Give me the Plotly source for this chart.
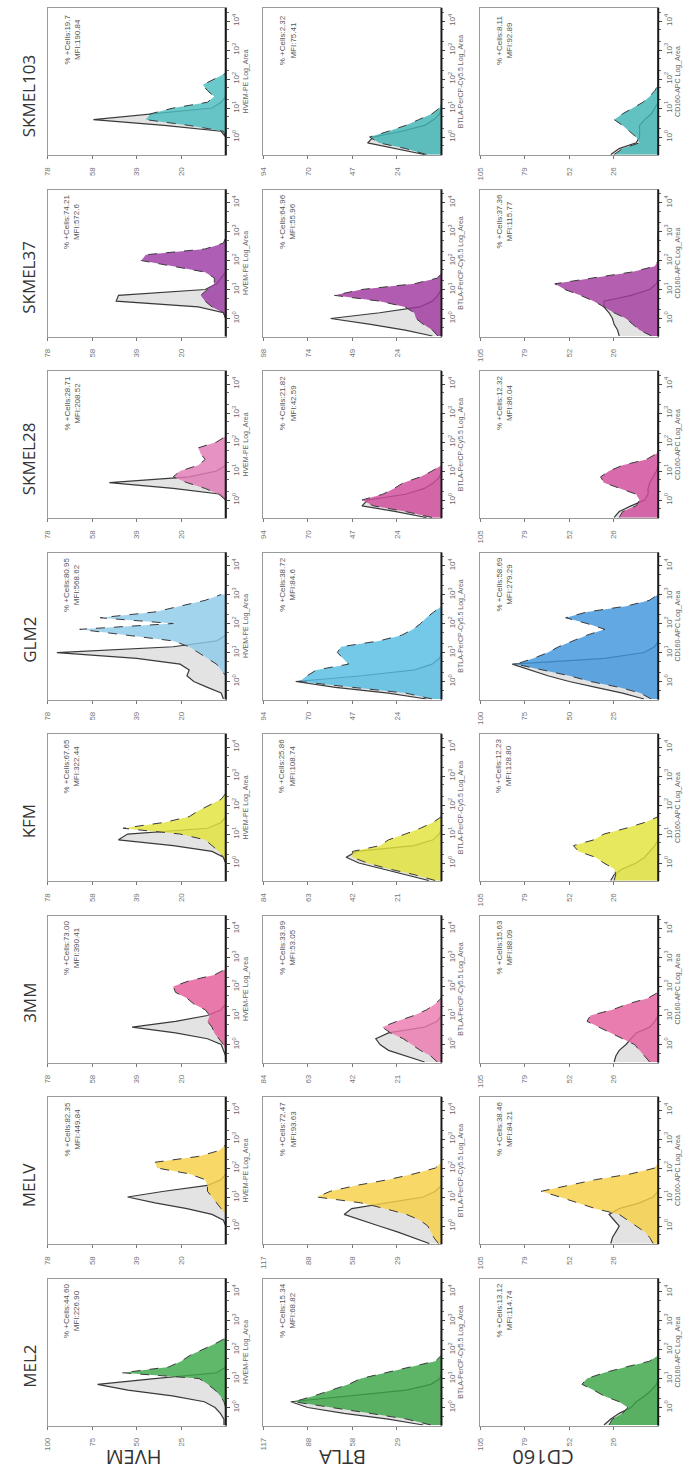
import plotly.graph_objects as go

# ---------------- data ----------------
CELL_LINES = ["SKMEL103", "SKMEL37", "SKMEL28", "GLM2", "KFM", "3MM", "MELV", "MEL2"]  # top -> bottom
MARKERS = ["HVEM", "BTLA", "CD160"]
AXIS_TITLES = ["HVEM-PE Log_Area", "BTLA-PerCP-Cy5.5 Log_Area", "CD160-APC Log_Area"]

# fluorescence bin positions (log10 = -0.6 ... 3.0 in 0.2 steps)
FLUOR = [0.25, 0.40, 0.63, 1.0, 1.58, 2.51, 3.98, 6.31, 10.0, 15.8, 25.1, 39.8, 63.1,
         100.0, 158.0, 251.0, 398.0, 631.0, 1000.0]
FLUOR_TICKS = [1, 10, 100, 1000, 10000]
FLUOR_TICKTEXT = ["10<sup>0</sup>", "10<sup>1</sup>", "10<sup>2</sup>", "10<sup>3</sup>", "10<sup>4</sup>"]

# stained-histogram colour per cell line, per marker (HVEM, BTLA, CD160)
STAIN_COLORS = [
    ["#4bbcbf", "#3fb5b5", "#3fb3b3"],
    ["#9c3aa5", "#a0389f", "#a43c9e"],
    ["#e07ab5", "#d04a98", "#d04a98"],
    ["#8fcbea", "#55bde3", "#3f95dd"],
    ["#e3e33c", "#e3e33c", "#e3e33c"],
    ["#e45c98", "#ec7ab0", "#e5609f"],
    ["#f6cf45", "#f6cf45", "#f6cf45"],
    ["#3da84a", "#3aa547", "#3aa547"],
]

# count-axis maxima per panel (rows = CELL_LINES)
HVEM_MAX = [78, 78, 78, 78, 78, 78, 78, 100]
BTLA_MAX = [94, 98, 94, 94, 84, 84, 117, 117]
CD160_MAX = [105, 105, 105, 100, 105, 105, 105, 105]

HVEM_PCT = ["19.7", "74.21", "28.71", "80.95", "67.65", "73.00", "82.35", "44.60"]
HVEM_MFI = ["190.84", "572.6", "208.52", "568.62", "322.44", "390.41", "449.84", "226.90"]
BTLA_PCT = ["2.32", "64.96", "21.82", "38.72", "25.86", "33.99", "72.47", "15.34"]
BTLA_MFI = ["75.41", "55.96", "42.59", "84.6", "108.74", "53.05", "93.63", "68.82"]
CD160_PCT = ["8.11", "37.36", "12.32", "58.69", "12.23", "15.63", "38.46", "13.12"]
CD160_MFI = ["92.89", "115.77", "86.04", "279.29", "128.80", "88.09", "84.21", "114.74"]

# control (isotype) histograms, counts per bin
HVEM_CTRL = [
    [0, 0, 0, 0, 2, 27, 58, 31, 6, 2, 0, 0, 0, 0, 0, 0, 0, 0, 0],
    [0, 0, 0, 0, 1, 12, 48, 47, 9, 4, 2, 0, 0, 0, 0, 0, 0, 0, 0],
    [0, 0, 0, 0, 2, 23, 51, 16, 4, 0, 0, 0, 0, 0, 0, 0, 0, 0, 0],
    [1, 2, 8, 14, 17, 16, 20, 39, 74, 23, 4, 0, 0, 0, 0, 0, 0, 0, 0],
    [0, 0, 0, 0, 1, 6, 23, 47, 43, 8, 2, 0, 0, 0, 0, 0, 0, 0, 0],
    [0, 0, 1, 2, 8, 22, 41, 22, 8, 2, 0, 0, 0, 0, 0, 0, 0, 0, 0],
    [0, 0, 0, 0, 1, 6, 17, 31, 43, 27, 8, 2, 0, 0, 0, 0, 0, 0, 0],
    [1, 1, 3, 6, 12, 30, 55, 72, 40, 5, 0, 0, 0, 0, 0, 0, 0, 0, 0],
]
HVEM_STAIN = [
    [0, 0, 0, 0, 1, 16, 35, 33, 23, 8, 5, 8, 10, 5, 0, 0, 0, 0, 0],
    [0, 0, 0, 0, 1, 6, 9, 11, 8, 5, 5, 9, 23, 37, 35, 9, 1, 0, 0],
    [0, 0, 0, 0, 3, 9, 17, 23, 20, 12, 9, 11, 12, 4, 0, 0, 0, 0, 0],
    [0, 0, 0, 0, 0, 2, 4, 8, 12, 16, 23, 43, 64, 23, 55, 31, 20, 9, 2],
    [0, 0, 0, 0, 1, 3, 6, 9, 20, 45, 27, 16, 12, 7, 2, 0, 0, 0, 0],
    [0, 0, 0, 1, 3, 5, 6, 8, 7, 9, 14, 17, 22, 23, 16, 5, 0, 0, 0],
    [0, 0, 0, 0, 0, 0, 2, 4, 6, 8, 8, 9, 16, 30, 31, 12, 3, 0, 0],
    [0, 0, 0, 0, 1, 3, 6, 10, 15, 58, 32, 25, 20, 13, 6, 0, 0, 0, 0],
]
BTLA_CTRL = [
    [9, 24, 39, 36, 21, 9, 4, 1, 0, 0, 0, 0, 0, 0, 0, 0, 0, 0, 0],
    [5, 20, 39, 61, 34, 12, 5, 2, 0, 0, 0, 0, 0, 0, 0, 0, 0, 0, 0],
    [8, 24, 42, 39, 19, 9, 4, 1, 0, 0, 0, 0, 0, 0, 0, 0, 0, 0, 0],
    [8, 28, 56, 77, 42, 14, 5, 1, 0, 0, 0, 0, 0, 0, 0, 0, 0, 0, 0],
    [6, 17, 29, 39, 45, 40, 13, 4, 1, 0, 0, 0, 0, 0, 0, 0, 0, 0, 0],
    [8, 17, 25, 29, 31, 25, 8, 2, 0, 0, 0, 0, 0, 0, 0, 0, 0, 0, 0],
    [8, 18, 29, 41, 53, 64, 59, 35, 12, 4, 0, 0, 0, 0, 0, 0, 0, 0, 0],
    [12, 35, 64, 88, 99, 59, 23, 7, 1, 0, 0, 0, 0, 0, 0, 0, 0, 0, 0],
]
BTLA_STAIN = [
    [8, 19, 33, 38, 28, 19, 12, 5, 1, 0, 0, 0, 0, 0, 0, 0, 0, 0, 0],
    [2, 5, 10, 14, 15, 20, 34, 59, 44, 15, 2, 0, 0, 0, 0, 0, 0, 0, 0],
    [5, 19, 36, 42, 31, 25, 20, 11, 5, 0, 0, 0, 0, 0, 0, 0, 0, 0, 0],
    [5, 19, 47, 75, 71, 66, 49, 52, 55, 53, 33, 21, 15, 11, 8, 4, 0, 0, 0],
    [3, 13, 25, 35, 42, 42, 29, 25, 17, 10, 4, 0, 0, 0, 0, 0, 0, 0, 0],
    [2, 5, 10, 14, 18, 24, 28, 21, 13, 7, 3, 0, 0, 0, 0, 0, 0, 0, 0],
    [2, 5, 7, 9, 14, 23, 37, 53, 82, 73, 56, 35, 18, 4, 0, 0, 0, 0, 0],
    [7, 23, 47, 73, 97, 84, 73, 61, 53, 37, 19, 4, 0, 0, 0, 0, 0, 0, 0],
]
CD160_CTRL = [
    [28, 23, 13, 11, 11, 11, 8, 4, 2, 0, 0, 0, 0, 0, 0, 0, 0, 0, 0],
    [23, 24, 26, 27, 29, 32, 32, 16, 5, 1, 0, 0, 0, 0, 0, 0, 0, 0, 0],
    [26, 23, 16, 8, 6, 6, 5, 3, 1, 0, 0, 0, 0, 0, 0, 0, 0, 0, 0],
    [8, 20, 35, 50, 62, 72, 82, 30, 8, 2, 0, 0, 0, 0, 0, 0, 0, 0, 0],
    [28, 26, 21, 13, 8, 5, 2, 0, 0, 0, 0, 0, 0, 0, 0, 0, 0, 0, 0],
    [26, 25, 23, 19, 16, 13, 5, 2, 0, 0, 0, 0, 0, 0, 0, 0, 0, 0, 0],
    [28, 27, 25, 23, 26, 29, 23, 11, 3, 0, 0, 0, 0, 0, 0, 0, 0, 0, 0],
    [32, 28, 23, 16, 13, 8, 4, 1, 0, 0, 0, 0, 0, 0, 0, 0, 0, 0, 0],
]
CD160_STAIN = [
    [26, 21, 11, 13, 17, 21, 26, 21, 15, 9, 5, 2, 0, 0, 0, 0, 0, 0, 0],
    [4, 11, 15, 19, 26, 32, 38, 46, 55, 61, 37, 16, 2, 0, 0, 0, 0, 0, 0],
    [23, 21, 13, 11, 13, 23, 32, 34, 29, 21, 7, 1, 0, 0, 0, 0, 0, 0, 0],
    [4, 10, 22, 38, 50, 65, 80, 70, 62, 56, 48, 40, 30, 40, 52, 40, 18, 5, 0],
    [26, 25, 26, 32, 37, 47, 50, 38, 32, 19, 8, 0, 0, 0, 0, 0, 0, 0, 0],
    [5, 8, 11, 14, 21, 28, 35, 42, 40, 27, 18, 6, 0, 0, 0, 0, 0, 0, 0],
    [3, 5, 8, 13, 18, 23, 37, 47, 58, 69, 53, 37, 16, 2, 0, 0, 0, 0, 0],
    [29, 27, 21, 18, 23, 32, 38, 45, 42, 32, 19, 5, 0, 0, 0, 0, 0, 0, 0],
]

CTRL = [HVEM_CTRL, BTLA_CTRL, CD160_CTRL]
STAIN = [HVEM_STAIN, BTLA_STAIN, CD160_STAIN]
AXMAX = [HVEM_MAX, BTLA_MAX, CD160_MAX]
PCT = [HVEM_PCT, BTLA_PCT, CD160_PCT]
MFI = [HVEM_MFI, BTLA_MFI, CD160_MFI]

# ---------------- layout ----------------
W, H = 694, 1470
COL_LEFT = [44, 261, 479]
COL_W = 179
ROW_TOP0 = 8
ROW_PITCH = 181.5
PANEL_H = 147
COLLABEL_X = [130, 341, 542]
SMALL = "Liberation Sans Narrow, Liberation Sans, sans-serif"


def hex_rgba(h, a):
    h = h.lstrip("#")
    return "rgba(%d,%d,%d,%.2f)" % (int(h[0:2], 16), int(h[2:4], 16), int(h[4:6], 16), a)


fig = go.Figure()
layout = {}
shapes = []
annotations = []
n = 0
for r, line in enumerate(CELL_LINES):
    top = ROW_TOP0 + r * ROW_PITCH
    bot = top + PANEL_H
    for c, marker in enumerate(MARKERS):
        n += 1
        xa = "x" if n == 1 else "x%d" % n
        ya = "y" if n == 1 else "y%d" % n
        xkey = "xaxis" if n == 1 else "xaxis%d" % n
        ykey = "yaxis" if n == 1 else "yaxis%d" % n
        M = AXMAX[c][r]
        col = STAIN_COLORS[r][c]

        fig.add_trace(go.Scatter(
            x=CTRL[c][r], y=FLUOR, xaxis=xa, yaxis=ya, mode="lines",
            fill="tozerox", fillcolor="#e3e3e3",
            line=dict(color="#3a3a3a", width=1.2), hoverinfo="skip", showlegend=False))
        fig.add_trace(go.Scatter(
            x=STAIN[c][r], y=FLUOR, xaxis=xa, yaxis=ya, mode="lines",
            fill="tozerox", fillcolor=hex_rgba(col, 0.82),
            line=dict(color="#3a3a3a", width=1, dash="dash"), hoverinfo="skip", showlegend=False))

        x0 = COL_LEFT[c] / W
        x1 = (COL_LEFT[c] + COL_W) / W
        layout[xkey] = dict(
            domain=[x0, x1], anchor=ya, range=[M, 0], showgrid=False, zeroline=False,
            showline=True, mirror=True, linecolor="#9a9a9a", linewidth=1,
            ticks="outside", ticklen=3, tickcolor="#777",
            tickvals=[M / 4, M / 2, 3 * M / 4, M],
            ticktext=[str(int(round(v))) for v in [M / 4, M / 2, 3 * M / 4, M]],
            tickangle=-90, tickfont=dict(size=8, color="#777", family=SMALL),
            ticklabelstandoff=5, fixedrange=True)
        layout[ykey] = dict(
            domain=[1 - bot / H, 1 - top / H], anchor=xa, type="log", range=[-0.62, 4.45],
            side="right", showgrid=False, zeroline=False,
            showline=True, mirror=True, linecolor="#9a9a9a", linewidth=1,
            ticks="outside", ticklen=3, tickcolor="#444",
            tickvals=FLUOR_TICKS, ticktext=FLUOR_TICKTEXT, tickangle=-90,
            tickfont=dict(size=8, color="#666", family=SMALL),
            minor=dict(ticks="outside", ticklen=2, tickcolor="#666", showgrid=False),
            title=dict(text=AXIS_TITLES[c], font=dict(size=7, color="#666", family=SMALL), standoff=2),
            fixedrange=True)
        shapes.append(dict(type="line", xref="%s domain" % xa, yref="%s domain" % ya,
                           x0=1, x1=1, y0=0, y1=1, line=dict(color="#1a1a1a", width=2)))
        annotations.append(dict(
            xref="paper", yref="paper", x=(COL_LEFT[c] + 24) / W, y=1 - (top + 32) / H,
            xanchor="center", yanchor="middle",
            text="%% +Cells:%s<br>MFI:%s" % (PCT[c][r], MFI[c][r]),
            textangle=-90, showarrow=False, align="center",
            font=dict(size=8, color="#555", family=SMALL)))
    annotations.append(dict(
        xref="paper", yref="paper", x=25 / W, y=1 - (top + PANEL_H / 2 + 14) / H,
        xanchor="center", yanchor="middle",
        text=line, textangle=-90, showarrow=False,
        font=dict(size=17, color="#333", family="Open Sans")))

for c, marker in enumerate(MARKERS):
    annotations.append(dict(
        xref="paper", yref="paper", x=COLLABEL_X[c] / W, y=1 - 1458 / H,
        xanchor="center", yanchor="middle",
        text=marker, textangle=180, showarrow=False,
        font=dict(size=20, color="#333", family="Open Sans")))

fig.update_layout(
    width=W, height=H, margin=dict(l=0, r=0, t=0, b=0),
    paper_bgcolor="white", plot_bgcolor="white",
    shapes=shapes, annotations=annotations, **layout)

fig.write_html("out.html", config={"displayModeBar": False},
               post_script="document.body.style.margin='0px';document.body.style.overflow='hidden';")
